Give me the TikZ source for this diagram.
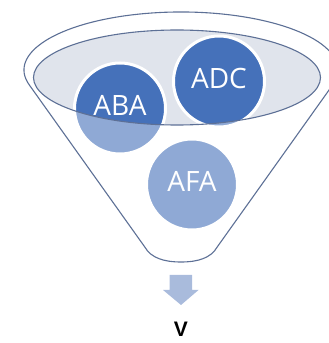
\documentclass[tikz,border=0pt]{standalone}
\usepackage{fontspec}
\newfontfamily\ballfont{Open Sans}
\newfontfamily\outfont{Liberation Sans}
\usetikzlibrary{positioning}
\definecolor{rimline}{HTML}{5D7096}
\definecolor{bowl}{HTML}{E0E4EC}
\definecolor{ballblue}{HTML}{4571BA}
\definecolor{spout}{HTML}{A9BBDC}

\begin{document}
\begin{tikzpicture}[x=1pt, y=1pt,
    ball/.style={circle, draw=white, line width=3pt, fill=ballblue, text=white,
                 minimum size=91pt, inner sep=0pt, text depth=6pt,
                 font=\ballfont\fontsize{28}{28}\selectfont},
    outlabel/.style={inner sep=0pt, font=\outfont\fontsize{21}{21}\selectfont\bfseries},
    funnel/.style={insert path={(29.2,258.2) arc[start angle=194.8, end angle=-14.8, x radius=157, y radius=58]
                 -- (217.2,96) .. controls (211,85) and (198,81) .. (181,81)
                 .. controls (164,81) and (151,85) .. (144.8,96) -- cycle}},
    rim/.style={insert path={(177,265.5) ellipse[x radius=143.5, y radius=47.5]}}]
  \useasboundingbox (0,0) rectangle (329,343);
  \fill[white, funnel];
  \fill[bowl, rim];
  \node[ball] (aba) at (120,234.5) {ABA};
  \node[ball] (adc) at (219,261.5) {ADC};
  \node[ball] (afa) at (192,158.5) {AFA};
  % front of the funnel over the balls
  \fill[white, opacity=0.4, even odd rule, funnel, rim];
  \draw[rimline, line width=1.1pt, funnel];
  \draw[rimline, line width=1.1pt, rim];
  % spout
  \fill[spout] (169.5,68) -- (192,68) -- (192,53) -- (198.5,53) -- (181,38)
    -- (163,53) -- (169.5,53) -- cycle;
  \coordinate (tip) at (181,38);
  \node[outlabel, below=17pt of tip] (v) {V};
\end{tikzpicture}
\end{document}
